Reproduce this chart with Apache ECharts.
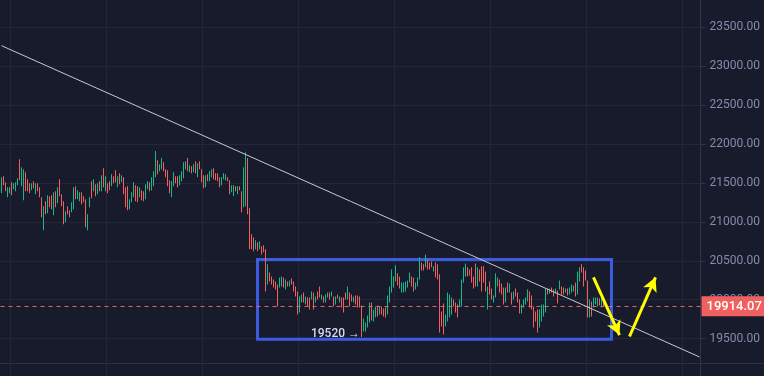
<!DOCTYPE html>
<html>
<head>
<meta charset="utf-8">
<style>
    html, body { margin: 0; padding: 0; background: #181b2c; }
    #chart { width: 764px; height: 376px; }
</style>
<script src="https://cdn.jsdelivr.net/npm/echarts@6/dist/echarts.min.js"></script>
</head>
<body>
<div id="chart"></div>
<script>
// K线数据 (开盘 / 收盘)
const opens = [
    21369,21588,21510,21317,21369,21510,21420,21394,21472,21807,
    21459,21278,21639,21549,21497,21407,21523,21356,21497,21446,
    21317,20892,21265,21111,21330,21343,21085,21394,21240,21549,
    21356,21265,20995,21201,21149,21124,21162,21459,21291,21265,
    21381,21330,21291,20892,21188,21523,21394,21485,21356,21523,
    21394,21691,21394,21497,21523,21459,21588,21665,21446,21626,
    21510,21575,21446,21459,21162,21253,21317,21472,21459,21317,
    21407,21394,21291,21420,21510,21407,21459,21575,21794,21652,
    21678,21768,21678,21665,21536,21317,21459,21588,21588,21472,
    21523,21562,21678,21820,21639,21717,21639,21781,21575,21781,
    21678,21601,21446,21613,21523,21575,21691,21626,21626,21575,
    21472,21549,21536,21575,21536,21381,21330,21459,21356,21459,
    21394,21188,21201,21820,21175,20840,20802,20647,20737,20647,
    20686,20698,20647,20196,20350,20299,20260,20234,20196,20157,
    20170,20286,20131,20234,20170,20273,20234,20170,20106,19835,
    19964,20093,19938,20028,20028,20003,20093,19964,20106,20170,
    20003,20041,19964,20028,20093,20041,20041,19938,20067,19964,
    20028,20028,20093,20003,20093,20067,19964,20054,20054,20041,
    19925,19590,19590,19642,19706,19964,19719,19771,19925,19809,
    19912,19887,19899,19809,19964,20093,20157,20234,20338,20299,
    20093,20093,20106,20157,20222,20299,20286,20131,20170,20260,
    20479,20454,20415,20518,20479,20492,20363,20479,20454,20325,
    19848,19951,19655,19719,19771,19809,20003,19964,19938,19912,
    19912,20222,20299,20415,20389,20415,20299,20466,20170,20389,
    20428,20428,20363,19874,20234,20144,19964,20028,20170,20260,
    20209,20157,19964,20222,20093,20093,20003,20144,20093,20003,
    19822,19899,19938,19977,20106,20054,19912,19848,19874,19642,
    19719,19784,19835,20144,20080,20157,20131,20080,20119,20131,
    20170,20157,20093,20144,20067,20093,20106,20222,20067,20234,
    20454,20415,20376,20247,19771,19977,19899,19938,19912,20015,
    19899,19990
];
const closes = [
    21575,21472,21394,21446,21446,21343,21497,21510,21562,21536,
    21704,21678,21394,21394,21369,21497,21433,21497,21394,21317,
    21059,21201,21098,21343,21188,21162,21381,21188,21446,21330,
    21201,20969,21137,21098,21059,21253,21446,21291,21407,21381,
    21227,21253,20930,21098,21317,21304,21549,21330,21497,21394,
    21601,21446,21588,21369,21407,21613,21497,21510,21588,21485,
    21601,21356,21188,21149,21291,21381,21510,21265,21253,21446,
    21278,21265,21485,21523,21394,21575,21652,21910,21613,21742,
    21820,21652,21575,21459,21369,21523,21639,21497,21446,21601,
    21652,21768,21781,21652,21729,21626,21742,21626,21755,21678,
    21510,21433,21601,21523,21652,21678,21549,21536,21523,21446,
    21575,21626,21613,21523,21356,21472,21472,21394,21459,21407,
    21124,21704,21897,21098,20647,20647,20621,20763,20621,20750,
    20582,20608,20106,20454,20234,20196,20157,20131,19912,20286,
    20299,20157,20260,20170,20247,20196,20106,20041,19809,20041,
    20067,19964,20041,19912,19874,20106,19874,20041,20003,20028,
    20067,19964,20067,20093,20003,20106,19912,20041,20015,20041,
    19899,19835,20003,20170,19912,19977,20041,19938,19899,19899,
    19520,19758,19706,19796,19964,19732,19874,19912,19784,19912,
    19809,19784,19771,20054,20170,20389,20299,20441,20183,20144,
    20222,20222,20234,20247,20350,20170,20106,20222,20286,20544,
    20376,20376,20582,20389,20389,20415,20428,20286,20260,19577,
    19655,19552,19809,20093,20067,20028,19912,19835,19771,20003,
    20260,20415,20466,20299,20312,20222,20144,20170,20415,20234,
    20106,20222,20106,20170,20067,20003,20054,20338,20286,20093,
    20067,19938,20157,20093,20209,19938,20106,20041,19964,19822,
    19938,20003,20028,20131,19899,19874,19642,19719,19577,19874,
    19938,19938,20144,20067,20144,20093,20041,20144,19951,20247,
    20067,20067,20144,20054,20157,20196,20183,20041,20363,20415,
    20350,20170,20247,19771,20003,19784,20028,20028,20028,19925,
    20041,19914.07
];

// 时间轴槽位 (右侧留空)
const slotCount = 350;
const categories = [];
for (let i = 0; i < slotCount; i++) categories.push(String(i));

// 价格刻度
const priceMin = 19000;
const priceMax = 24000;
const priceStep = 500;

// 画线标注
const lastPrice = 19914.07;
const trendLine = [[0, 23266], [349, 19263]];
const arrowDown = [[296, 20287], [309, 19545]];
const arrowUp = [[314, 19526], [327, 20287]];
const rangeBox = [[128, 20516], [305, 19490]];
const lowNote = '19520 →';
const lowNoteAt = [167, 19564];

const upColor = '#12bb88';
const downColor = '#f2605d';

const candles = opens.map((o, i) => [i, o, closes[i]]);

const myChart = echarts.init(document.getElementById('chart'));

// 细K线: 1px 竖条
function renderCandle(params, api) {
    const i = api.value(0);
    const o = api.value(1);
    const c = api.value(2);
    const top = api.coord([i, Math.max(o, c)]);
    const bot = api.coord([i, Math.min(o, c)]);
    return {
        type: 'rect',
        shape: {x: top[0] - 0.5, y: top[1], width: 1, height: Math.max(1, bot[1] - top[1])},
        style: {fill: c >= o ? upColor : downColor}
    };
}

const arrowLine = (pts) => [
    {coord: pts[0], symbol: 'none', lineStyle: {color: '#ffff00', width: 3, type: 'solid'}},
    {coord: pts[1], symbol: 'arrow', symbolSize: [11, 14]}
];

const option = {
    backgroundColor: '#181b2c',
    animation: false,
    grid: {
        left: 0.5,
        right: 63.5,
        top: -11.4,
        bottom: -1.4,
        containLabel: false,
        outerBoundsMode: 'none'
    },
    xAxis: {
        type: 'category',
        data: categories,
        boundaryGap: true,
        axisLine: {show: false},
        axisTick: {show: false},
        axisLabel: {show: false},
        splitLine: {
            show: true,
            interval: (i) => i >= 5 && (i - 5) % 48 === 0,
            lineStyle: {color: '#232739', width: 1}
        }
    },
    yAxis: {
        type: 'value',
        position: 'right',
        min: priceMin,
        max: priceMax,
        interval: priceStep,
        axisLine: {show: true, lineStyle: {color: '#2f3448'}},
        axisTick: {show: true, length: 5, lineStyle: {color: '#2f3448'}},
        axisLabel: {
            color: '#858cab',
            fontSize: 12,
            fontFamily: 'Roboto, sans-serif',
            margin: 9,
            showMinLabel: false,
            showMaxLabel: false,
            formatter: (v) => v.toFixed(2)
        },
        splitLine: {lineStyle: {color: '#232739', width: 1}}
    },
    graphic: [
        {
            type: 'line',
            shape: {x1: 0, y1: 363.5, x2: 764, y2: 363.5},
            style: {stroke: '#2c3043', lineWidth: 1},
            silent: true
        }
    ],
    series: [
        {
            type: 'custom',
            data: candles,
            renderItem: renderCandle,
            encode: {x: 0, y: [1, 2]},
            silent: true
        },
        {
            // 画线工具: 区间框 / 趋势线 / 箭头 / 现价线
            type: 'line',
            data: [],
            silent: true,
            markArea: {
                silent: true,
                itemStyle: {color: 'rgba(0,0,0,0)', borderColor: '#3a5ce0', borderWidth: 3},
                data: [[{coord: rangeBox[0]}, {coord: rangeBox[1]}]]
            },
            markPoint: {
                silent: true,
                symbol: 'rect',
                symbolSize: 1,
                itemStyle: {color: 'rgba(0,0,0,0)'},
                data: [{
                    coord: lowNoteAt,
                    label: {
                        show: true,
                        position: 'inside',
                        formatter: lowNote,
                        color: '#d3dcf4',
                        fontSize: 12,
                        fontWeight: 500,
                        fontFamily: 'Roboto, sans-serif'
                    }
                }]
            },
            markLine: {
                silent: true,
                symbol: ['none', 'none'],
                label: {show: false},
                data: [
                    {
                        yAxis: lastPrice,
                        lineStyle: {color: '#e0666a', width: 1, type: [4, 4]},
                        label: {
                            show: true,
                            position: 'end',
                            distance: 1,
                            formatter: lastPrice.toFixed(2),
                            color: '#ffffff',
                            backgroundColor: '#f0605e',
                            fontSize: 13,
                            fontWeight: 500,
                            fontFamily: 'Roboto, sans-serif',
                            padding: [4, 5, 3, 5]
                        }
                    },
                    [
                        {coord: trendLine[0], lineStyle: {color: '#c6c8d2', width: 1, type: 'solid'}},
                        {coord: trendLine[1]}
                    ],
                    arrowLine(arrowDown),
                    arrowLine(arrowUp)
                ]
            }
        }
    ]
};

myChart.setOption(option);
</script>
</body>
</html>
